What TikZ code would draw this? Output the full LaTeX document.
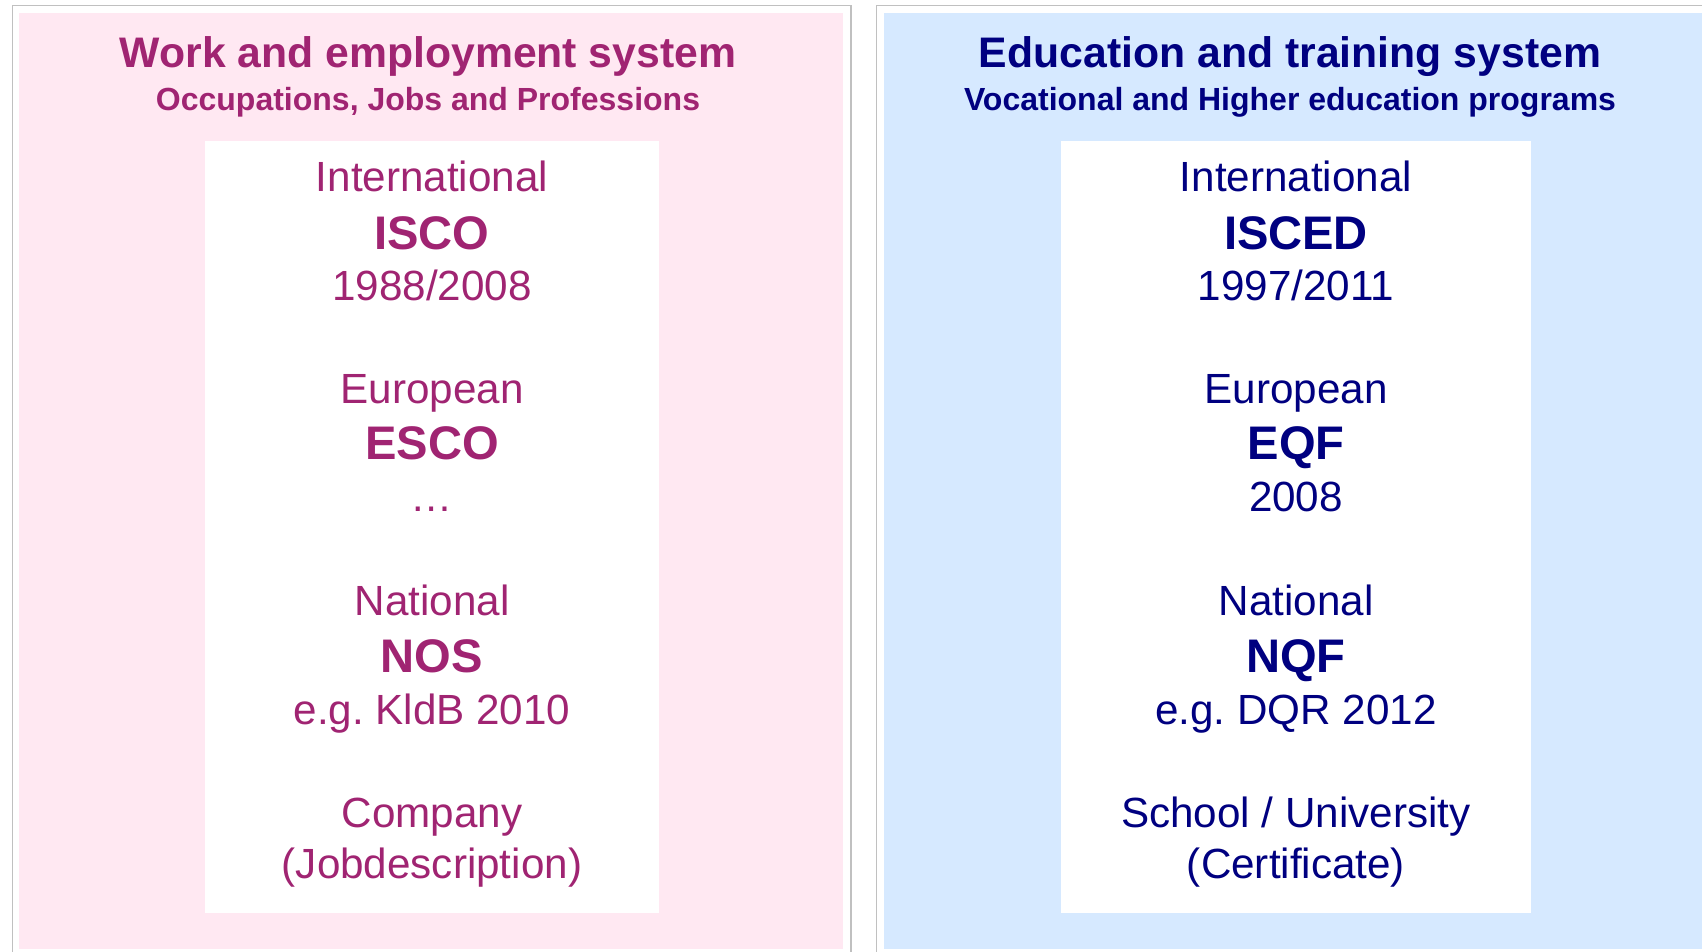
\documentclass[tikz,border=0pt]{standalone}
\usepackage{fontspec}
\setmainfont{Liberation Sans}
\frenchspacing

\definecolor{workpink}{RGB}{160,36,114}
\definecolor{workbg}{RGB}{255,232,242}
\definecolor{edunavy}{RGB}{0,0,128}
\definecolor{edubg}{RGB}{214,233,255}
\definecolor{framegray}{RGB}{192,192,192}

\tikzset{
  head/.style={anchor=base, font=\bfseries\fontsize{12.15}{15}\selectfont},
  subhead/.style={anchor=base, font=\bfseries\fontsize{9.1}{11}\selectfont},
  lab/.style={anchor=base, font=\fontsize{12}{14}\selectfont},
  key/.style={anchor=base, font=\bfseries\fontsize{13.4}{16}\selectfont},
}

\begin{document}
\begin{tikzpicture}[x=0.01cm, y=-0.01cm, inner sep=0pt]
\useasboundingbox (0,0) rectangle (1702,952);

% panels
\draw[framegray, line width=0.4pt] (12.7,952) |- (851,5.7) -- (851,952);
\draw[framegray, line width=0.4pt] (876.7,952) |- (1702,5.7);
\fill[workbg] (19.3,13.3) rectangle (843.3,949);
\fill[edubg] (884.3,13.3) rectangle (1702,949);
\fill[white] (205,141) rectangle (659,913.5);
\fill[white] (1061,141) rectangle (1531,913.5);

% headings
\node[head, workpink] (workhead) at (428,68) {Work and employment system};
\node[subhead, workpink] (worksub) at (428,111) {Occupations, Jobs and Professions};
\node[head, edunavy] (eduhead) at (1290,68) {Education and training system};
\node[subhead, edunavy] (edusub) at (1290,111) {Vocational and Higher education programs};

% left column
\foreach \y/\s/\txt [count=\i] in {191.7/lab/International, 249.3/key/ISCO, 301/lab/{1988/2008},
    404/lab/European, 460/key/ESCO, 511.7/lab/…,
    616/lab/National, 672.3/key/NOS, 725/lab/{e.g. KldB 2010},
    828/lab/Company, 879/lab/{(Jobdescription)}}
  \node[\s, workpink] (work\i) at (432,\y) {\txt};

% right column
\foreach \y/\s/\txt [count=\i] in {191.7/lab/International, 249.3/key/ISCED, 301/lab/{1997/2011},
    404/lab/European, 460/key/EQF, 511.7/lab/2008,
    616/lab/National, 672.3/key/NQF, 725/lab/{e.g. DQR 2012},
    828/lab/{School / University}, 879/lab/{(Certificate)}}
  \node[\s, edunavy] (edu\i) at (1296,\y) {\txt};
\end{tikzpicture}
\end{document}
